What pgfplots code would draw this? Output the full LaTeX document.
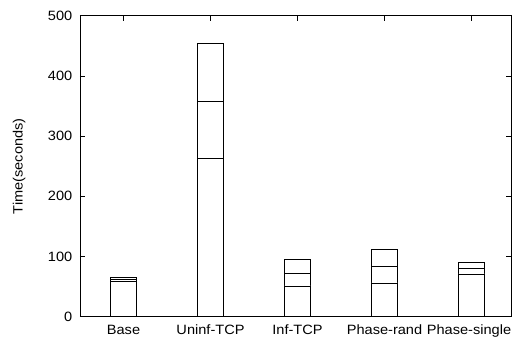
\documentclass[border=0pt]{standalone}
\usepackage{pgfplots}
\pgfplotsset{compat=1.18}
\usepackage{fontspec}
\setmainfont{Liberation Sans}[FakeStretch=1.08]
\begin{document}
\fontsize{13.5bp}{16bp}\selectfont
\begin{tikzpicture}
\begin{axis}[
  scale only axis,
  width=431bp, height=301bp,
  xmin=-0.5, xmax=4.454,
  ymin=0, ymax=500,
  ybar stacked,
  bar width=26.5bp,
  xtick={0,1,2,3,4},
  xticklabels={Base,Uninf-TCP,Inf-TCP,Phase-rand,\hspace*{-5bp}Phase-single},
  ytick={0,100,200,300,400,500},
  tick align=inside,
  major tick length=5bp,
  minor tick num=0,
  tick style={black, line width=0.6bp},
  axis line style={line width=0.8bp},
  /pgf/number format/assume math mode=true,
  yticklabel style={xshift=-3bp},
  xticklabel style={yshift=-3.5bp},
  ylabel={Time(seconds)},
  every axis y label/.style={at={(axis description cs:-0.1415,0.5)}, rotate=90, anchor=center},
]
\addplot[fill=white, draw=black, line width=0.9bp] coordinates {(0,58) (1,263) (2,51) (3,56) (4,71)};
\addplot[fill=white, draw=black, line width=0.9bp] coordinates {(0,4) (1,95) (2,21) (3,28) (4,9)};
\addplot[fill=white, draw=black, line width=0.9bp] coordinates {(0,3) (1,96) (2,23) (3,28) (4,10)};
\coordinate (sw) at (rel axis cs:0,0);
\end{axis}
\pgfresetboundingbox
\path (sw) ++(-80bp,-22.3bp) rectangle ++(512bp,339bp);
\end{tikzpicture}
\end{document}
